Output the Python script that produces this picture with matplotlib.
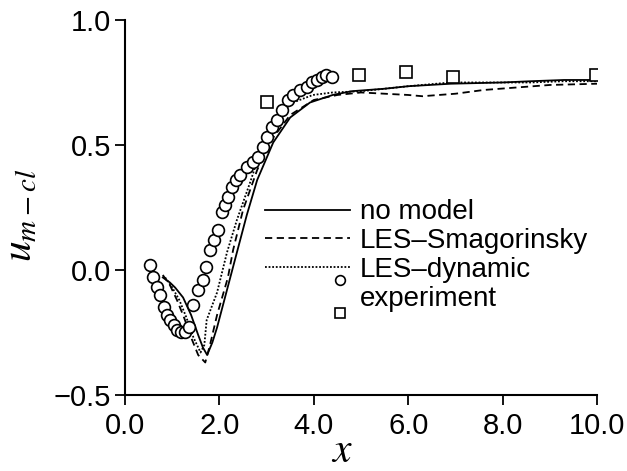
import matplotlib
matplotlib.use('Agg')
import matplotlib.pyplot as plt
from matplotlib.lines import Line2D
from matplotlib.legend_handler import HandlerBase

plt.rcParams['font.family'] = ['Liberation Sans', 'DejaVu Sans']
plt.rcParams['mathtext.fontset'] = 'stix'

# experiment, circles
exp_c_x = [0.53, 0.60, 0.67, 0.74, 0.83, 0.88, 0.95, 1.03, 1.10, 1.18, 1.27, 1.35,
           1.44, 1.55, 1.65, 1.72, 1.80, 1.88, 1.96, 2.05, 2.12, 2.18, 2.27, 2.35,
           2.44, 2.58, 2.71, 2.82, 2.92, 3.00, 3.11, 3.22, 3.32, 3.45, 3.56, 3.70,
           3.85, 3.96, 4.07, 4.17, 4.26, 4.38]
exp_c_y = [0.02, -0.03, -0.07, -0.10, -0.15, -0.18, -0.20, -0.22, -0.24, -0.25, -0.25, -0.23,
           -0.14, -0.08, -0.04, 0.01, 0.08, 0.12, 0.16, 0.23, 0.26, 0.29, 0.33, 0.36,
           0.38, 0.41, 0.43, 0.45, 0.49, 0.53, 0.57, 0.60, 0.64, 0.68, 0.70, 0.72,
           0.73, 0.75, 0.76, 0.77, 0.78, 0.77]
# experiment, squares
exp_s_x = [3.0, 4.95, 5.96, 6.95, 9.97]
exp_s_y = [0.67, 0.78, 0.79, 0.77, 0.78]

nm_x = [0.80, 0.95, 1.06, 1.23, 1.40, 1.55, 1.65, 1.74, 1.85, 1.95, 2.16, 2.37, 2.58,
        2.80, 3.14, 3.50, 3.92, 4.40, 4.80, 5.5, 6.0, 6.9, 8.0, 8.6, 9.3, 10.0]
nm_y = [-0.03, -0.05, -0.07, -0.11, -0.18, -0.26, -0.31, -0.34, -0.29, -0.23, -0.08, 0.07, 0.22,
        0.36, 0.51, 0.61, 0.67, 0.70, 0.715, 0.725, 0.735, 0.745, 0.75, 0.755, 0.76, 0.76]

smag_x = [0.80, 0.95, 1.10, 1.25, 1.40, 1.55, 1.70, 1.80, 1.95, 2.18, 2.29, 2.5, 2.8,
          3.1, 3.5, 4.0, 4.5, 5.0, 5.5, 6.0, 6.3, 7.0, 7.6, 8.3, 9.0, 10.0]
smag_y = [-0.02, -0.06, -0.12, -0.19, -0.27, -0.34, -0.37, -0.30, -0.18, -0.03, 0.08, 0.24, 0.40,
          0.52, 0.62, 0.68, 0.70, 0.71, 0.705, 0.70, 0.695, 0.705, 0.72, 0.73, 0.74, 0.745]

dyn_x = [0.85, 1.0, 1.15, 1.30, 1.45, 1.60, 1.68, 1.73, 1.85, 1.95, 2.16, 2.37, 2.65,
         3.0, 3.3, 3.56, 3.98, 4.4, 5.0, 5.5, 6.0, 6.9, 7.5, 8.6, 9.3, 10.0]
dyn_y = [-0.03, -0.07, -0.12, -0.19, -0.27, -0.33, -0.30, -0.20, -0.14, -0.09, 0.07, 0.20, 0.35,
         0.55, 0.63, 0.67, 0.70, 0.71, 0.715, 0.725, 0.735, 0.75, 0.75, 0.75, 0.755, 0.755]

xticks = [0, 2, 4, 6, 8, 10]
yticks = [-0.5, 0.0, 0.5, 1.0]


def fmt(v):
    return ('%.1f' % v).replace('-', '\u2212')


class StackedMarkers(HandlerBase):
    # circle above, square below, near right end of the handle
    def create_artists(self, legend, orig_handle, xdescent, ydescent, width, height, fontsize, trans):
        cx = 0.88 * width - xdescent
        cy = 0.5 * height - ydescent
        c = Line2D([cx], [cy + 0.8 * height], marker='o', ls='none', mfc='white',
                   mec='black', ms=7, mew=1.2, transform=trans)
        s = Line2D([cx], [cy - 0.9 * height], marker='s', ls='none', mfc='white',
                   mec='black', ms=7, mew=1.2, transform=trans)
        return [c, s]


fig = plt.figure(figsize=(6.27, 4.71), dpi=100)
ax = fig.add_axes([0.1994, 0.1614, 0.7528, 0.7962])

l1, = ax.plot(nm_x, nm_y, color='black', lw=1.3, ls='-')
l2, = ax.plot(smag_x, smag_y, color='black', lw=1.3, ls=(0, (4, 2.5)))
l3, = ax.plot(dyn_x, dyn_y, color='black', lw=1.3, ls=(0, (1, 1)))
ax.plot(exp_c_x, exp_c_y, ls='none', marker='o', ms=8.5, mfc='white', mec='black', mew=1.2)
ax.plot(exp_s_x, exp_s_y, ls='none', marker='s', ms=8.5, mfc='white', mec='black', mew=1.2)

ax.set_xlim(0, 10)
ax.set_ylim(-0.5, 1.0)
ax.set_xticks(xticks)
ax.set_xticklabels([fmt(v) for v in xticks])
ax.set_yticks(yticks)
ax.set_yticklabels([fmt(v) for v in yticks])
ax.tick_params(direction='out', length=7, width=1.3, labelsize=21)
ax.tick_params(axis='x', pad=5)
ax.tick_params(axis='y', pad=3)
for s in ['top', 'right']:
    ax.spines[s].set_visible(False)
for s in ['left', 'bottom']:
    ax.spines[s].set_linewidth(1.5)

ax.set_xlabel(r'$x$', fontsize=30)
ax.xaxis.set_label_coords(0.46, -0.095)
ax.set_ylabel(r'$u_{m-cl}$', fontsize=30)
ax.yaxis.set_label_coords(-0.18, 0.48)

ax.legend([l1, l2, l3, (0,)], ['no model', 'LES\u2013Smagorinsky', 'LES\u2013dynamic', 'experiment'],
          handler_map={tuple: StackedMarkers()},
          loc='upper left', bbox_to_anchor=(0.297, 0.522), frameon=False, fontsize=20,
          handlelength=3.05, handletextpad=0.36, labelspacing=0.1, borderpad=0, borderaxespad=0)

fig.savefig('out.png', dpi=100)
